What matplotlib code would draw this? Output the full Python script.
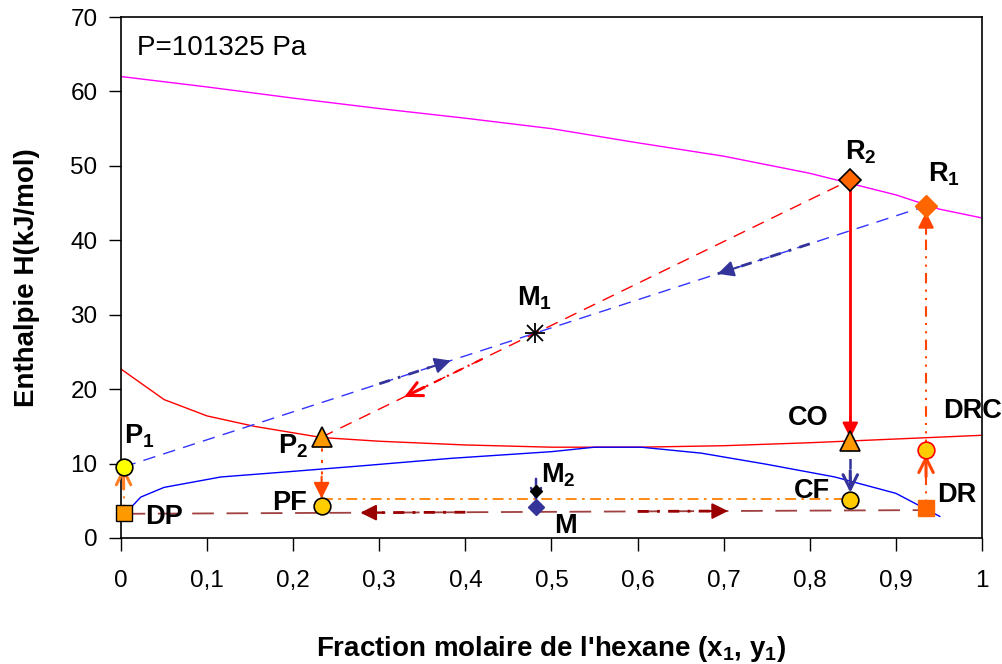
import numpy as np
import matplotlib
matplotlib.use('Agg')
import matplotlib.pyplot as plt

plt.rcParams['font.family'] = ['Liberation Sans', 'DejaVu Sans']
plt.rcParams['mathtext.fontset'] = 'custom'
plt.rcParams['mathtext.rm'] = 'Liberation Sans'
plt.rcParams['mathtext.bf'] = 'Liberation Sans:bold'
plt.rcParams['mathtext.it'] = 'Liberation Sans:italic'

# saturation curves (H in kJ/mol vs mole fraction of hexane)
x_vap = [0, 0.1, 0.2, 0.3, 0.4, 0.5, 0.6, 0.7, 0.8, 0.9, 0.95, 1.0]
h_vap = [62, 60.6, 59.1, 57.7, 56.4, 55.0, 53.1, 51.3, 49.0, 46.1, 44.2, 43.0]

x_red = [0, 0.05, 0.1, 0.155, 0.233, 0.3, 0.4, 0.5, 0.6, 0.7, 0.8, 0.9, 1.0]
h_red = [22.7, 18.6, 16.4, 15.0, 13.5, 13.0, 12.5, 12.2, 12.2, 12.4, 12.8, 13.3, 13.8]

x_liq = [0.006, 0.014, 0.023, 0.05, 0.116, 0.194, 0.28, 0.383, 0.5, 0.55, 0.604, 0.674, 0.75, 0.829, 0.9, 0.951]
h_liq = [3.4, 4.4, 5.5, 6.8, 8.2, 8.9, 9.7, 10.7, 11.6, 12.2, 12.2, 11.4, 9.9, 8.2, 6.0, 2.9]

# operating points
pt_names = ['P1', 'DP', 'P2', 'PF', 'M1', 'M2', 'M', 'R2', 'CO', 'CF', 'R1', 'DRC', 'DR']
pt_x = [0.003, 0.003, 0.233, 0.233, 0.481, 0.482, 0.482, 0.847, 0.847, 0.847, 0.935, 0.935, 0.935]
pt_h = [9.55, 3.3, 13.55, 4.35, 27.5, 6.3, 4.2, 48.1, 13.0, 5.05, 44.6, 11.8, 4.05]

xtick_vals = [0, 0.1, 0.2, 0.3, 0.4, 0.5, 0.6, 0.7, 0.8, 0.9, 1.0]
xtick_labels = ['0', '0,1', '0,2', '0,3', '0,4', '0,5', '0,6', '0,7', '0,8', '0,9', '1']

P = {n: (x, h) for n, x, h in zip(pt_names, pt_x, pt_h)}

fig = plt.figure(figsize=(10.03, 6.64), dpi=100)
ax = fig.add_axes([121 / 1003, 1 - 538 / 664, 861 / 1003, 521 / 664])
ax.set_xlim(0, 1)
ax.set_ylim(0, 70)


def head(start, tip, color, filled=True, lw=1.5, size=24):
    # short arrow so that the head stays solid whatever the shaft style
    p0 = ax.transData.transform(start)
    p1 = ax.transData.transform(tip)
    d = (p1 - p0) / np.hypot(*(p1 - p0))
    q = ax.transData.inverted().transform(p1 - d * 22)
    ax.annotate('', xy=tip, xytext=q,
                arrowprops=dict(arrowstyle='-|>' if filled else '->', color=color, lw=lw,
                                shrinkA=0, shrinkB=0, mutation_scale=size))


def on_line(a, b, x):
    return a[1] + (b[1] - a[1]) * (x - a[0]) / (b[0] - a[0])


# curves
ax.plot(x_vap, h_vap, color='#FF00FF', lw=1)
ax.plot(x_red, h_red, color='#FF0000', lw=1)
ax.plot(x_liq, h_liq, color='#0000FF', lw=1)

# construction lines
ax.plot([P['P1'][0], P['R1'][0]], [P['P1'][1], P['R1'][1]], color='#3333FF', lw=1, ls=(0, (9, 6)))
ax.plot([P['P2'][0], P['R2'][0]], [P['P2'][1], P['R2'][1]], color='#FF0000', lw=1, ls=(0, (9, 6)))

# dark blue arrows on P1-R1 line, toward M1
bl1 = (0.30, on_line(P['P1'], P['R1'], 0.30))
bt1 = (0.383, on_line(P['P1'], P['R1'], 0.383))
ax.plot([bl1[0], bt1[0]], [bl1[1], bt1[1]], color='#333399', lw=2, ls=(0, (4, 3, 1, 3)))
head(bl1, bt1, '#333399')
bl2 = (0.80, on_line(P['P1'], P['R1'], 0.80))
bt2 = (0.693, on_line(P['P1'], P['R1'], 0.693))
ax.plot([bl2[0], bt2[0]], [bl2[1], bt2[1]], color='#333399', lw=2, ls=(0, (4, 3, 1, 3)))
head(bl2, bt2, '#333399')

# red arrow from M1 toward P2
rs = (0.42, on_line(P['P2'], P['R2'], 0.42))
rt = (0.329, on_line(P['P2'], P['R2'], 0.329))
ax.plot([rs[0], rt[0]], [rs[1], rt[1]], color='#FF0000', lw=1.5, ls=(0, (4, 3, 1, 3)))
head(rs, rt, '#FF0000', filled=False, lw=2.2, size=26)

# horizontal lines at the bottom
ax.plot([P['PF'][0], P['CF'][0]], [5.25, 5.25], color='#FF8000', lw=1.3, ls=(0, (6, 3, 1.5, 3)))
brown_h = [3.25, 3.75]
ax.plot([P['DP'][0], P['DR'][0]], brown_h, color='#A04040', lw=1.3, ls=(0, (12, 7)))
bs1 = (0.40, np.interp(0.40, [P['DP'][0], P['DR'][0]], brown_h))
bt3 = (0.278, np.interp(0.278, [P['DP'][0], P['DR'][0]], brown_h))
ax.plot([bs1[0], bt3[0]], [bs1[1], bt3[1]], color='#990000', lw=2, ls=(0, (4, 3, 1, 3)))
head(bs1, bt3, '#990000')
bs2 = (0.60, np.interp(0.60, [P['DP'][0], P['DR'][0]], brown_h))
bt4 = (0.705, np.interp(0.705, [P['DP'][0], P['DR'][0]], brown_h))
ax.plot([bs2[0], bt4[0]], [bs2[1], bt4[1]], color='#990000', lw=2, ls=(0, (4, 3, 1, 3)))
head(bs2, bt4, '#990000')

# vertical arrows
ax.plot([P['DP'][0]] * 2, [P['DP'][1], P['P1'][1]], color='#FF7F27', lw=1.5, ls=(0, (4, 3, 1, 3)))
head(P['DP'], P['P1'], '#FF7F27', filled=False, lw=2.2, size=26)

tip = (P['PF'][0], 5.3)
ax.plot([P['P2'][0], tip[0]], [P['P2'][1], tip[1]], color='#FF4500', lw=1.5, ls=(0, (1.5, 4)))
head(P['P2'], tip, '#FF4500')

tip = (P['CO'][0], 13.4)
ax.plot([P['R2'][0], tip[0]], [P['R2'][1], tip[1]], color='#FF0000', lw=2)
head(P['R2'], tip, '#FF0000')

tip = (P['CF'][0], 6.1)
ax.plot([P['CO'][0], tip[0]], [P['CO'][1], tip[1]], color='#333399', lw=1.8, ls=(0, (4, 3)))
head(P['CO'], tip, '#333399', filled=False, lw=2.2, size=26)

tip = (P['DRC'][0], 11.2)
ax.plot([P['DR'][0], tip[0]], [P['DR'][1], tip[1]], color='#FF4500', lw=1.5, ls=(0, (4, 3, 1, 3)))
head(P['DR'], tip, '#FF4500', filled=False, lw=2.2, size=26)
tip = (P['R1'][0], 43.8)
ax.plot([P['DRC'][0], tip[0]], [P['DRC'][1], tip[1]], color='#FF4500', lw=1.5, ls=(0, (5, 3, 1, 3, 1, 3)))
head(P['DRC'], tip, '#FF4500')

head(P['M2'], (P['M'][0], 5.0), '#333399', filled=False, lw=1.8, size=18)

# markers
ms = 12
mk = dict(zorder=5, clip_on=False)
ax.plot(*P['P1'], 'o', ms=ms, mfc='#FFFF00', mec='black', mew=1.2, **mk)
ax.plot(*P['PF'], 'o', ms=ms, mfc='#FFCC00', mec='black', mew=1.2, **mk)
ax.plot(*P['CF'], 'o', ms=ms, mfc='#FFCC00', mec='black', mew=1.2, **mk)
ax.plot(*P['DRC'], 'o', ms=ms, mfc='#FFCC00', mec='#FF0000', mew=1.2, **mk)
ax.plot(*P['DP'], 's', ms=ms, mfc='#FF9900', mec='black', mew=1.0, **mk)
ax.plot(*P['DR'], 's', ms=ms, mfc='#FF6600', mec='#FF6600', **mk)
ax.plot(*P['P2'], '^', ms=ms + 2, mfc='#FF9900', mec='black', mew=1.2, **mk)
ax.plot(*P['CO'], '^', ms=ms + 2, mfc='#FF9900', mec='black', mew=1.2, **mk)
ax.plot(*P['R2'], 'D', ms=ms - 1, mfc='#FF6600', mec='black', mew=1.2, **mk)
ax.plot(*P['R1'], 'D', ms=ms - 1, mfc='#FF6600', mec='#FF6600', **mk)
ax.plot(*P['M1'], 'x', ms=ms, color='black', mew=1.3, **mk)
ax.plot(*P['M1'], '+', ms=ms + 2, color='black', mew=1.3, **mk)
ax.plot(*P['M2'], 'D', ms=6, color='black', **mk)
ax.plot(*P['M'], 'D', ms=8, color='#333399', **mk)

# point labels
lab = dict(fontsize=19.5, fontweight='bold', ha='left', va='baseline')
ax.text(0.0035, 12.75, r'P$_{\mathbf{1}}$', **lab)
ax.text(0.028, 1.9, 'DP', **lab)
ax.text(0.182, 11.4, r'P$_{\mathbf{2}}$', **lab)
ax.text(0.175, 3.75, 'PF', **lab)
ax.text(0.460, 31.2, r'M$_{\mathbf{1}}$', **lab)
ax.text(0.488, 7.4, r'M$_{\mathbf{2}}$', **lab)
ax.text(0.503, 0.65, 'M', **lab)
ax.text(0.841, 50.8, r'R$_{\mathbf{2}}$', **lab)
ax.text(0.937, 47.85, r'R$_{\mathbf{1}}$', **lab)
ax.text(0.774, 15.2, 'CO', **lab)
ax.text(0.955, 16.1, 'DRC', clip_on=False, **lab)
ax.text(0.782, 5.4, 'CF', **lab)
ax.text(0.948, 4.9, 'DR', **lab)
ax.text(0.0186, 64.85, 'P=101325 Pa', fontsize=20, ha='left', va='baseline')

# axes
ax.set_xticks(xtick_vals)
ax.set_xticklabels(xtick_labels)
ax.set_yticks(range(0, 71, 10))
ax.tick_params(axis='x', direction='out', length=9, width=1, pad=14, labelsize=17.5)
ax.tick_params(axis='y', direction='out', length=9, width=1, pad=8, labelsize=17.5)
for s in ax.spines.values():
    s.set_linewidth(1.2)
ax.set_xlabel(r"Fraction molaire de l'hexane (x$_{\mathbf{1}}$, y$_{\mathbf{1}}$)",
              fontsize=20, fontweight='bold', labelpad=30)
ax.set_ylabel('Enthalpie H(kJ/mol)', fontsize=20, fontweight='bold', labelpad=22)

fig.savefig('out.png', dpi=100)
